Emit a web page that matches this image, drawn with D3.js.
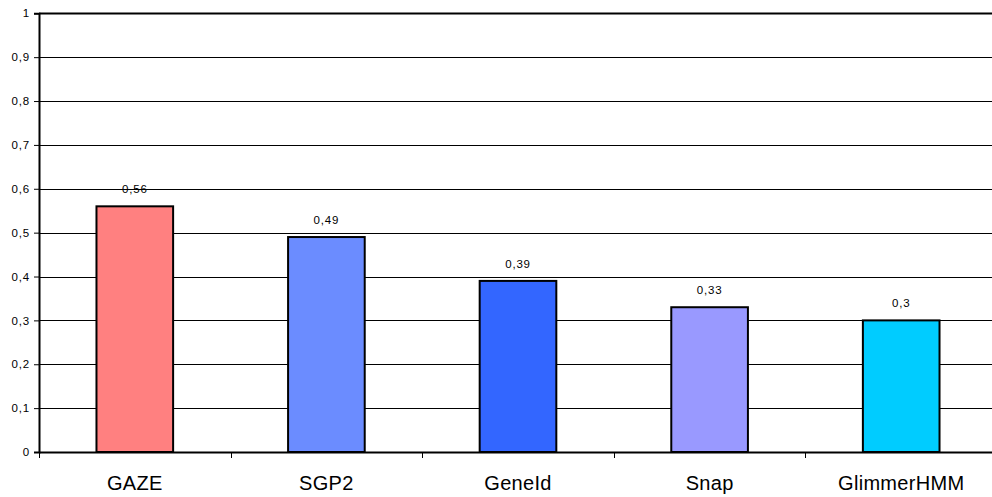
<!DOCTYPE html>
<html lang="en">
<head>
    <meta charset="UTF-8">
    <title>Gene predictors</title>
    <script src="https://d3js.org/d3.v7.min.js"></script>
    <style>
        body { margin: 0; background: #fff; }
        text { font-family: Arial, "Liberation Sans", sans-serif; fill: #000; }
    </style>
</head>
<body>
<script>
    var categories = ["GAZE", "SGP2", "GeneId", "Snap", "GlimmerHMM"];
    var values = [0.56, 0.49, 0.39, 0.33, 0.3];
    var colors = ["#FF8080", "#6B8CFF", "#3366FF", "#9999FF", "#00CCFF"];
    var yTicks = [0, 0.1, 0.2, 0.3, 0.4, 0.5, 0.6, 0.7, 0.8, 0.9, 1];

    var width = 992, height = 497;
    var plotLeft = 39, plotRight = 997, plotTop = 13.3, plotBottom = 452;

    var fmt = function (d) { return String(d).replace(".", ","); };

    var svg = d3.select("body").append("svg")
        .attr("width", width)
        .attr("height", height);

    var x = d3.scaleBand().domain(categories).range([plotLeft, plotRight]).padding(0);
    var y = d3.scaleLinear().domain([0, 1]).range([plotBottom, plotTop]);

    // grid lines
    svg.append("g").selectAll("line")
        .data(yTicks.slice(1))
        .enter().append("line")
        .attr("x1", plotLeft).attr("x2", width)
        .attr("y1", function (d) { return Math.round(y(d)) + 0.5; })
        .attr("y2", function (d) { return Math.round(y(d)) + 0.5; })
        .attr("stroke", "#000")
        .attr("stroke-width", function (d) { return d === 1 ? 2 : 1; });

    // bars
    var barW = x.bandwidth() * 0.4;
    svg.append("g").selectAll("rect")
        .data(values)
        .enter().append("rect")
        .attr("x", function (d, i) { return x(categories[i]) + (x.bandwidth() - barW) / 2; })
        .attr("y", function (d) { return y(d); })
        .attr("width", barW)
        .attr("height", function (d) { return plotBottom - y(d); })
        .attr("fill", function (d, i) { return colors[i]; })
        .attr("stroke", "#000")
        .attr("stroke-width", 2);

    // value labels
    svg.append("g").selectAll("text")
        .data(values)
        .enter().append("text")
        .attr("x", function (d, i) { return x(categories[i]) + x.bandwidth() / 2; })
        .attr("y", function (d) { return y(d) - 13; })
        .attr("text-anchor", "middle")
        .style("font-size", "11.5px")
        .style("letter-spacing", "0.8px")
        .text(function (d) { return fmt(d); });

    // y axis
    var yAxis = d3.axisLeft(y).tickValues(yTicks).tickSize(5).tickPadding(4).tickFormat(fmt);
    var gy = svg.append("g")
        .attr("transform", "translate(" + plotLeft + ",0)")
        .call(yAxis);
    gy.select(".domain").attr("stroke-width", 2);
    gy.selectAll("text").style("font-size", "11.5px").style("letter-spacing", "0.8px")
        .attr("font-family", null);

    // x axis
    var xAxis = d3.axisBottom(x).tickSize(0).tickPadding(24);
    var gx = svg.append("g")
        .attr("transform", "translate(0," + plotBottom + ")")
        .call(xAxis);
    gx.select(".domain").attr("stroke-width", 2);
    gx.selectAll("text").style("font-size", "20px").style("letter-spacing", "0.3px")
        .attr("font-family", null);

    // category separator ticks
    gx.append("g").selectAll("line")
        .data(categories)
        .enter().append("line")
        .attr("x1", function (d) { return Math.round(x(d)) + 0.5; })
        .attr("x2", function (d) { return Math.round(x(d)) + 0.5; })
        .attr("y1", 0).attr("y2", 6)
        .attr("stroke", "#000");
</script>
</body>
</html>
